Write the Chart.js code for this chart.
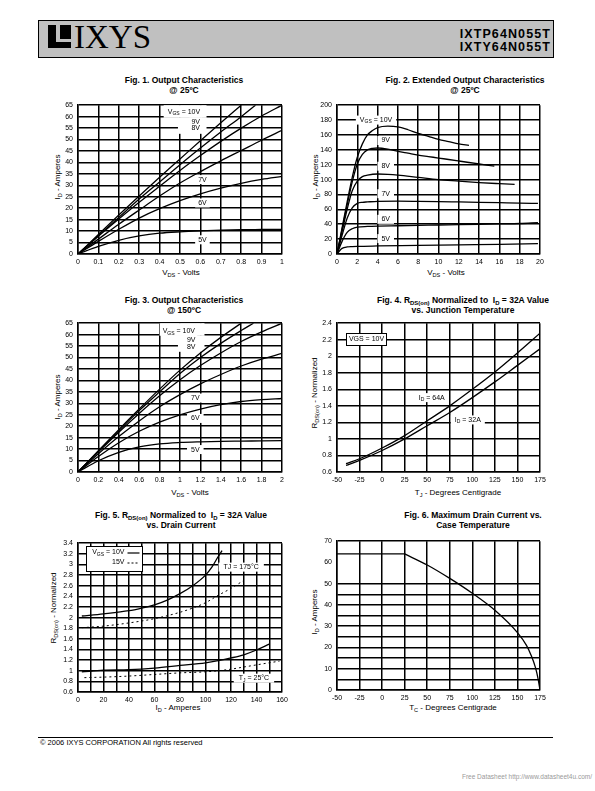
<!DOCTYPE html>
<html lang="en">
<head>
<meta charset="UTF-8">
<title>IXTP64N055T / IXTY64N055T</title>
<style>
  body { margin: 0; background: #fff; font-family: "Liberation Sans", Arial, sans-serif; color: #000; }
  #page { position: relative; width: 595px; height: 791px; overflow: hidden; }
  .abs { position: absolute; }
  .c { position: absolute; transform: translate(-50%, -50%); white-space: nowrap; }
  .title { font-weight: bold; font-size: 8.5px; }
  .axt { font-size: 8px; }
  .rot { transform: translate(-50%, -50%) rotate(-90deg); }
  sub { font-size: 70%; vertical-align: -2px; line-height: 0; }
  canvas { position: absolute; }
</style>
</head>
<body>
<div id="page">
  <!-- header -->
  <div class="abs" style="left:38px;top:20px;width:514px;height:36px;background:#c0c0c0;border:1px solid #000;"></div>
  <div class="abs" style="left:48px;top:25px;width:23px;height:23px;background:#000;"></div>
  <div class="abs" style="left:56px;top:25px;width:4px;height:15px;background:#c0c0c0;"></div>
  <div class="abs" style="left:56px;top:39px;width:15px;height:3px;background:#c0c0c0;"></div>
  <div class="abs" style="left:74px;top:18px;font-family:'Liberation Serif',serif;font-size:33px;line-height:38px;">IXYS</div>
  <div class="abs" style="right:44px;top:28px;font-weight:bold;font-size:12.5px;line-height:13px;letter-spacing:1.1px;text-align:right;">IXTP64N055T<br>IXTY64N055T</div>

  <!-- figure titles -->
  <div class="c title" style="left:184px;top:80px;">Fig. 1. Output Characteristics</div>
  <div class="c title" style="left:184px;top:90px;">@ 25ºC</div>
  <div class="c title" style="left:465px;top:80px;">Fig. 2. Extended Output Characteristics</div>
  <div class="c title" style="left:465px;top:90px;">@ 25ºC</div>
  <div class="c title" style="left:184px;top:300px;">Fig. 3. Output Characteristics</div>
  <div class="c title" style="left:184px;top:310px;">@ 150ºC</div>
  <div class="c title" style="left:463px;top:300px;">Fig. 4. R<sub>DS(on)</sub> Normalized to&nbsp; I<sub>D</sub> = 32A Value</div>
  <div class="c title" style="left:463px;top:310px;">vs. Junction Temperature</div>
  <div class="c title" style="left:181px;top:515px;">Fig. 5. R<sub>DS(on)</sub> Normalized to&nbsp; I<sub>D</sub> = 32A Value</div>
  <div class="c title" style="left:181px;top:525px;">vs. Drain Current</div>
  <div class="c title" style="left:473px;top:515px;">Fig. 6. Maximum Drain Current vs.</div>
  <div class="c title" style="left:473px;top:525px;">Case Temperature</div>

  <!-- axis titles -->
  <div class="c axt" style="left:181px;top:272px;">V<sub>DS</sub> - Volts</div>
  <div class="c axt rot" style="left:57px;top:177px;">I<sub>D</sub> - Amperes</div>
  <div class="c axt" style="left:446px;top:272px;">V<sub>DS</sub> - Volts</div>
  <div class="c axt rot" style="left:315px;top:177px;">I<sub>D</sub> - Amperes</div>
  <div class="c axt" style="left:190px;top:492px;">V<sub>DS</sub> - Volts</div>
  <div class="c axt rot" style="left:57px;top:397px;">I<sub>D</sub> - Amperes</div>
  <div class="c axt" style="left:458px;top:492px;">T<sub>J</sub> - Degrees Centigrade</div>
  <div class="c axt rot" style="left:314px;top:393px;">R<sub>DS(on)</sub> - Normalized</div>
  <div class="c axt" style="left:178px;top:707px;">I<sub>D</sub> - Amperes</div>
  <div class="c axt rot" style="left:53px;top:608px;">R<sub>DS(on)</sub> - Normalized</div>
  <div class="c axt" style="left:453px;top:707px;">T<sub>C</sub> - Degrees Centigrade</div>
  <div class="c axt rot" style="left:314px;top:612px;">I<sub>D</sub> - Amperes</div>

  <canvas id="fig1"></canvas>
  <canvas id="fig2"></canvas>
  <canvas id="fig3"></canvas>
  <canvas id="fig4"></canvas>
  <canvas id="fig5"></canvas>
  <canvas id="fig6"></canvas>

  <!-- footer -->
  <div class="abs" style="left:38px;top:737px;width:515px;height:1px;background:#000;"></div>
  <div class="abs" style="left:40px;top:738px;font-size:7.5px;">© 2006 IXYS CORPORATION All rights reserved</div>
  <div class="abs" style="right:3px;top:773px;font-size:6.5px;color:#999;">Free Datasheet http://www.datasheet4u.com/</div>
</div>

<script src="https://cdn.jsdelivr.net/npm/chart.js"></script>
<script>
// Fig. 1 - output characteristics @ 25ºC
const fig1Vds = [0, 0.1, 0.2, 0.3, 0.4, 0.5, 0.6, 0.7, 0.8, 0.9, 1.0];
const fig1Vds9V = [0, 0.1, 0.2, 0.3, 0.4, 0.5, 0.6, 0.7, 0.8, 0.87];
const fig1Id10V = [0, 8.5, 17, 25.3, 33.5, 41.5, 49.5, 57.3, 65];
const fig1Id9V = [0, 8, 16, 24, 31.5, 39, 46.3, 53.3, 60, 65];
const fig1Id8V = [0, 7.8, 15.3, 22.6, 29.6, 36.5, 43, 49.2, 55, 60.3, 65];
const fig1Id7V = [0, 6.5, 13, 19.2, 25.3, 31, 36, 40.7, 45.2, 49.7, 54];
const fig1Id6V = [0, 5.5, 10.8, 15.7, 19.8, 23.3, 26.3, 28.8, 30.9, 32.6, 33.9];
const fig1Id5V = [0, 3.3, 6, 7.9, 9.1, 9.7, 10.1, 10.4, 10.6, 10.7, 10.8];
const fig1XTicks = [0, 0.1, 0.2, 0.3, 0.4, 0.5, 0.6, 0.7, 0.8, 0.9, 1];
const fig1YTicks = [0, 5, 10, 15, 20, 25, 30, 35, 40, 45, 50, 55, 60, 65];

// Fig. 2 - extended output characteristics @ 25ºC
const fig2Vds10V = [0, 0.5, 1, 1.5, 2, 2.5, 3, 3.5, 4, 5, 6, 7, 8, 9, 10, 11, 12, 13];
const fig2Id10V = [0, 35, 70, 103, 130, 148, 160, 166, 170, 172, 171, 167, 162, 158, 154, 151, 148, 146];
const fig2Vds9V = [0, 0.5, 1, 1.5, 2, 2.5, 3, 3.5, 4, 5, 6, 7, 8, 9, 10, 11, 12, 13, 14, 15.5];
const fig2Id9V = [0, 33, 66, 97, 121, 134, 140, 142, 142.5, 141, 138, 135.5, 133, 131, 129, 127, 125, 123, 121, 118];
const fig2Vds8V = [0, 0.5, 1, 1.5, 2, 2.5, 3, 4, 5, 6, 8, 10, 12, 14, 16, 17.5];
const fig2Id8V = [0, 30, 60, 85, 98, 104, 106, 107.5, 107, 106, 103, 100, 98, 96, 94.5, 93.5];
const fig2Vds7V = [0, 0.5, 1, 1.5, 2, 2.5, 3, 4, 6, 8, 10, 12, 14, 16, 18, 19.8];
const fig2Id7V = [0, 25, 48, 62, 68, 69.5, 70, 70.8, 71, 70.8, 70.5, 70, 69.5, 69, 68.5, 68];
const fig2Vds6V = [0, 0.5, 1, 1.5, 2, 3, 4, 6, 8, 10, 12, 14, 16, 18, 19.8];
const fig2Id6V = [0, 17, 29, 34, 36, 37, 37.5, 38, 38.5, 39, 39.5, 40, 40.5, 41, 42];
const fig2Vds5V = [0, 0.3, 0.5, 1, 1.5, 2, 4, 8, 12, 16, 19.8];
const fig2Id5V = [0, 5, 7.5, 9.5, 10, 10.3, 10.8, 11.5, 12.3, 13, 14];
const fig2XTicks = [0, 2, 4, 6, 8, 10, 12, 14, 16, 18, 20];
const fig2YTicks = [0, 20, 40, 60, 80, 100, 120, 140, 160, 180, 200];

// Fig. 3 - output characteristics @ 150ºC
const fig3Vds = [0, 0.2, 0.4, 0.6, 0.8, 1.0, 1.2, 1.4, 1.6, 1.8, 2.0];
const fig3Vds9V = [0, 0.2, 0.4, 0.6, 0.8, 1.0, 1.2, 1.4, 1.6, 1.72];
const fig3Id10V = [0, 9.3, 18.5, 27.5, 36.2, 44.5, 52, 58.8, 65];
const fig3Id9V = [0, 9.1, 18, 26.8, 35, 43, 50, 56.2, 61.8, 65];
const fig3Id8V = [0, 8.8, 17.4, 25.6, 33.3, 40.3, 46.5, 52, 57, 61.2, 65];
const fig3Id7V = [0, 8, 15.5, 22.3, 28.5, 33.8, 38.5, 42.6, 46.3, 49.3, 51.8];
const fig3Id6V = [0, 6.8, 12.8, 17.8, 21.8, 25, 27.5, 29.4, 30.8, 31.6, 32.1];
const fig3Id5V = [0, 4.9, 8.6, 11, 12.3, 12.9, 13.2, 13.4, 13.5, 13.6, 13.7];
const fig3XTicks = [0, 0.2, 0.4, 0.6, 0.8, 1, 1.2, 1.4, 1.6, 1.8, 2];
const fig3YTicks = [0, 5, 10, 15, 20, 25, 30, 35, 40, 45, 50, 55, 60, 65];

// Fig. 4 - RDS(on) vs junction temperature
const fig4Tj = [-40, -25, 0, 25, 50, 75, 100, 125, 150, 175];
const fig4R64A = [0.7, 0.76, 0.89, 1.04, 1.22, 1.4, 1.6, 1.81, 2.04, 2.28];
const fig4R32A = [0.68, 0.74, 0.86, 1.0, 1.16, 1.32, 1.5, 1.69, 1.89, 2.09];
const fig4XTicks = [-50, -25, 0, 25, 50, 75, 100, 125, 150, 175];
const fig4YTicks = [0.6, 0.8, 1, 1.2, 1.4, 1.6, 1.8, 2, 2.2, 2.4];

// Fig. 5 - RDS(on) vs drain current
const fig5IdHot10V = [3, 20, 40, 50, 60, 70, 80, 90, 100, 105, 110, 113];
const fig5RHot10V = [2.03, 2.07, 2.13, 2.18, 2.24, 2.33, 2.45, 2.6, 2.8, 2.95, 3.15, 3.26];
const fig5IdHot15V = [3, 20, 40, 60, 80, 90, 100, 110, 120, 130];
const fig5RHot15V = [1.81, 1.84, 1.9, 1.98, 2.1, 2.18, 2.28, 2.42, 2.55, 2.7];
const fig5IdCold10V = [3, 20, 40, 60, 80, 100, 110, 120, 130, 140, 150];
const fig5RCold10V = [0.98, 1.01, 1.02, 1.05, 1.1, 1.15, 1.19, 1.24, 1.3, 1.39, 1.5];
const fig5IdCold15V = [5, 20, 40, 60, 80, 100, 110, 120, 130, 140, 150, 158];
const fig5RCold15V = [0.87, 0.88, 0.9, 0.93, 0.96, 0.98, 1.0, 1.03, 1.07, 1.11, 1.15, 1.18];
const fig5XGrid = [0, 10, 20, 30, 40, 50, 60, 70, 80, 90, 100, 110, 120, 130, 140, 150, 160];
const fig5XLabels = [0, 20, 40, 60, 80, 100, 120, 140, 160];
const fig5YTicks = [0.6, 0.8, 1, 1.2, 1.4, 1.6, 1.8, 2, 2.2, 2.4, 2.6, 2.8, 3, 3.2, 3.4];

// Fig. 6 - maximum drain current vs case temperature
const fig6TcLimit = [-50, 25];
const fig6IdLimit = [64, 64];
const fig6Tc = [25, 50, 75, 100, 125, 150, 160, 165, 170, 173, 175];
const fig6Id = [64, 58.8, 52.5, 45.5, 37.5, 27, 21, 16.5, 10.5, 5, 0];
const fig6XTicks = [-50, -25, 0, 25, 50, 75, 100, 125, 150, 175];
const fig6YTicks = [0, 5, 10, 15, 20, 25, 30, 35, 40, 45, 50, 55, 60, 65, 70];
const fig6YGrid = [0, 5, 10, 15, 20, 25, 30, 35, 40, 45, 50, 70];
const fig6YLabels = [0, 10, 20, 30, 40, 50, 60, 70];

const FONT = '"Liberation Sans", Arial, sans-serif';
const Y_W = 30, X_H = 15, PAD_T = 6, PAD_R = 12;

function pts(xs, ys) {
  return ys.map((y, i) => ({ x: xs[i], y: y }));
}

function line(xs, ys, extra) {
  return Object.assign({
    data: pts(xs, ys),
    borderColor: '#000',
    borderWidth: 1.3,
    pointRadius: 0,
    fill: false,
    cubicInterpolationMode: 'monotone'
  }, extra || {});
}

// split "V_{GS} = 10V" into normal / subscript pieces
function pieces(s) {
  const out = [];
  const re = /_\{([^}]*)\}/g;
  let last = 0, m;
  while ((m = re.exec(s))) {
    if (m.index > last) out.push([s.slice(last, m.index), false]);
    out.push([m[1], true]);
    last = re.lastIndex;
  }
  if (last < s.length) out.push([s.slice(last), false]);
  return out;
}

function richWidth(ctx, s, size) {
  let w = 0;
  pieces(s).forEach(p => {
    ctx.font = (p[1] ? size * 0.72 : size) + 'px ' + FONT;
    w += ctx.measureText(p[0]).width;
  });
  return w;
}

function drawRich(ctx, s, x, y, size) {
  ctx.fillStyle = '#000';
  ctx.textBaseline = 'middle';
  ctx.textAlign = 'left';
  pieces(s).forEach(p => {
    ctx.font = (p[1] ? size * 0.72 : size) + 'px ' + FONT;
    ctx.fillText(p[0], x, p[1] ? y + 2 : y);
    x += ctx.measureText(p[0]).width;
  });
}

// curve labels, white masks and framed boxes drawn on top of the grid
function notesPlugin(cfg) {
  return {
    id: 'notes',
    beforeDatasetsDraw(chart) {
      const ctx = chart.ctx, sx = chart.scales.x, sy = chart.scales.y;
      const size = 7;
      ctx.save();
      (cfg.masks || []).forEach(m => {
        const x0 = sx.getPixelForValue(m[0]), x1 = sx.getPixelForValue(m[1]);
        const y0 = sy.getPixelForValue(m[3]), y1 = sy.getPixelForValue(m[2]);
        ctx.fillStyle = '#fff';
        ctx.fillRect(x0, y0, x1 - x0, y1 - y0);
      });
      (cfg.frames || []).forEach(f => {
        const x0 = Math.round(sx.getPixelForValue(f.box[0])) + 0.5, x1 = Math.round(sx.getPixelForValue(f.box[1])) + 0.5;
        const y0 = Math.round(sy.getPixelForValue(f.box[3])) + 0.5, y1 = Math.round(sy.getPixelForValue(f.box[2])) + 0.5;
        ctx.fillStyle = '#fff';
        ctx.fillRect(x0, y0, x1 - x0, y1 - y0);
        ctx.strokeStyle = '#000';
        ctx.lineWidth = 1;
        ctx.strokeRect(x0, y0, x1 - x0, y1 - y0);
        if (f.text) {
          const w = richWidth(ctx, f.text, size);
          drawRich(ctx, f.text, (x0 + x1) / 2 - w / 2, (y0 + y1) / 2, size);
        }
        (f.rows || []).forEach((r, i) => {
          const yy = y0 + 6 + i * 10;
          const w = richWidth(ctx, r.t, size);
          drawRich(ctx, r.t, x0 + 38 - w, yy, size);
          ctx.beginPath();
          ctx.setLineDash(r.dash);
          ctx.lineWidth = r.dash.length ? 1 : 1.2;
          ctx.moveTo(x0 + 41, yy + 0.5);
          ctx.lineTo(x0 + 53, yy + 0.5);
          ctx.stroke();
          ctx.setLineDash([]);
        });
      });
      (cfg.labels || []).forEach(l => {
        const w = richWidth(ctx, l.t, size);
        const px = sx.getPixelForValue(l.x), py = sy.getPixelForValue(l.y);
        const left = l.a === 'l' ? px : px - w / 2;
        const pad = l.pad == null ? 2 : l.pad;
        ctx.fillStyle = '#fff';
        ctx.fillRect(left - pad, py - 4.5, w + 2 * pad, 9);
        drawRich(ctx, l.t, left, py, size);
      });
      ctx.restore();
    }
  };
}

function makeChart(id, rect, xs, ys, datasets, notes) {
  const cv = document.getElementById(id);
  cv.width = rect[2] + Y_W + PAD_R;
  cv.height = rect[3] + PAD_T + X_H;
  cv.style.left = (rect[0] - Y_W) + 'px';
  cv.style.top = (rect[1] - PAD_T) + 'px';

  const axis = (a, isX) => ({
    type: 'linear',
    min: a.ticks[0],
    max: a.ticks[a.ticks.length - 1],
    afterBuildTicks: s => { s.ticks = a.ticks.map(v => ({ value: v })); },
    afterFit: s => { if (isX) s.height = X_H; else s.width = Y_W; },
    ticks: {
      autoSkip: false,
      maxRotation: 0,
      padding: isX ? 4 : 5,
      color: '#000',
      font: { family: FONT, size: 7 },
      callback: v => (a.labels ? (a.labels.includes(v) ? String(v) : '') : String(v))
    },
    grid: {
      drawTicks: false,
      lineWidth: 1.5,
      color: c => (a.grid && !a.grid.includes(c.tick.value)) ? 'rgba(0,0,0,0)' : '#000'
    },
    border: { color: '#000', width: 1.5 }
  });

  return new Chart(cv, {
    type: 'line',
    data: { datasets: datasets },
    options: {
      responsive: false,
      animation: false,
      devicePixelRatio: 1,
      layout: { padding: { top: PAD_T, right: PAD_R, left: 0, bottom: 0 } },
      plugins: { legend: { display: false }, tooltip: { enabled: false }, title: { display: false } },
      scales: { x: axis(xs, true), y: axis(ys, false) }
    },
    plugins: [notesPlugin(notes)]
  });
}

makeChart('fig1', [78, 102, 204, 152],
  { ticks: fig1XTicks }, { ticks: fig1YTicks },
  [
    line(fig1Vds, fig1Id10V), line(fig1Vds9V, fig1Id9V), line(fig1Vds, fig1Id8V),
    line(fig1Vds, fig1Id7V), line(fig1Vds, fig1Id6V), line(fig1Vds, fig1Id5V)
  ],
  {
    masks: [[0.42, 0.63, 59.5, 65], [0.49, 0.63, 52.5, 59.5]],
    labels: [
      { x: 0.44, y: 62, t: 'V_{GS} = 10V', a: 'l' },
      { x: 0.577, y: 57.7, t: '9V' },
      { x: 0.577, y: 54.9, t: '8V' },
      { x: 0.61, y: 32.5, t: '7V', pad: 3 },
      { x: 0.61, y: 22.3, t: '6V', pad: 3 },
      { x: 0.61, y: 6.2, t: '5V', pad: 3 }
    ]
  });

makeChart('fig2', [337, 102, 203, 152],
  { ticks: fig2XTicks }, { ticks: fig2YTicks },
  [
    line(fig2Vds10V, fig2Id10V), line(fig2Vds9V, fig2Id9V), line(fig2Vds8V, fig2Id8V),
    line(fig2Vds7V, fig2Id7V), line(fig2Vds6V, fig2Id6V), line(fig2Vds5V, fig2Id5V)
  ],
  {
    labels: [
      { x: 2.25, y: 180, t: 'V_{GS} = 10V', a: 'l', pad: 4 },
      { x: 4.8, y: 152.5, t: '9V', pad: 4 },
      { x: 4.8, y: 118, t: '8V', pad: 4 },
      { x: 4.8, y: 81, t: '7V', pad: 4 },
      { x: 4.8, y: 46.6, t: '6V', pad: 4 },
      { x: 4.8, y: 20.7, t: '5V', pad: 4 }
    ]
  });

makeChart('fig3', [78, 320, 204, 152],
  { ticks: fig3XTicks }, { ticks: fig3YTicks },
  [
    line(fig3Vds, fig3Id10V), line(fig3Vds9V, fig3Id9V), line(fig3Vds, fig3Id8V),
    line(fig3Vds, fig3Id7V), line(fig3Vds, fig3Id6V), line(fig3Vds, fig3Id5V)
  ],
  {
    masks: [[0.8, 1.24, 59.5, 65], [0.98, 1.24, 52.5, 59.5]],
    labels: [
      { x: 0.83, y: 61.4, t: 'V_{GS} = 10V', a: 'l' },
      { x: 1.11, y: 57.6, t: '9V' },
      { x: 1.11, y: 54.5, t: '8V' },
      { x: 1.15, y: 32.3, t: '7V', pad: 4 },
      { x: 1.15, y: 23.4, t: '6V', pad: 4 },
      { x: 1.15, y: 9.8, t: '5V', pad: 4 }
    ]
  });

makeChart('fig4', [337, 320, 203, 152],
  { ticks: fig4XTicks }, { ticks: fig4YTicks },
  [line(fig4Tj, fig4R64A), line(fig4Tj, fig4R32A)],
  {
    frames: [{ box: [-40, 4.6, 2.14, 2.28], text: 'VGS = 10V' }],
    labels: [
      { x: 55, y: 1.5, t: 'I_{D} = 64A', pad: 3 },
      { x: 95, y: 1.23, t: 'I_{D} = 32A', pad: 4 }
    ]
  });

makeChart('fig5', [78, 540, 204, 152],
  { ticks: fig5XGrid, labels: fig5XLabels }, { ticks: fig5YTicks },
  [
    line(fig5IdHot10V, fig5RHot10V),
    line(fig5IdHot15V, fig5RHot15V, { borderWidth: 1, borderDash: [2, 3] }),
    line(fig5IdCold10V, fig5RCold10V),
    line(fig5IdCold15V, fig5RCold15V, { borderWidth: 1, borderDash: [2, 3] })
  ],
  {
    frames: [{ box: [6.6, 49.9, 2.88, 3.34], rows: [{ t: 'V_{GS} = 10V', dash: [] }, { t: '15V', dash: [2, 2] }] }],
    labels: [
      { x: 128, y: 2.95, t: 'TJ = 175°C', pad: 5 },
      { x: 138, y: 0.86, t: 'T_{J} = 25°C', pad: 5 }
    ]
  });

makeChart('fig6', [337, 538, 203, 152],
  { ticks: fig6XTicks },
  { ticks: fig6YTicks, labels: fig6YLabels, grid: fig6YGrid },
  [
    line(fig6TcLimit, fig6IdLimit, { cubicInterpolationMode: 'default', tension: 0 }),
    line(fig6Tc, fig6Id)
  ],
  {});
</script>
</body>
</html>
